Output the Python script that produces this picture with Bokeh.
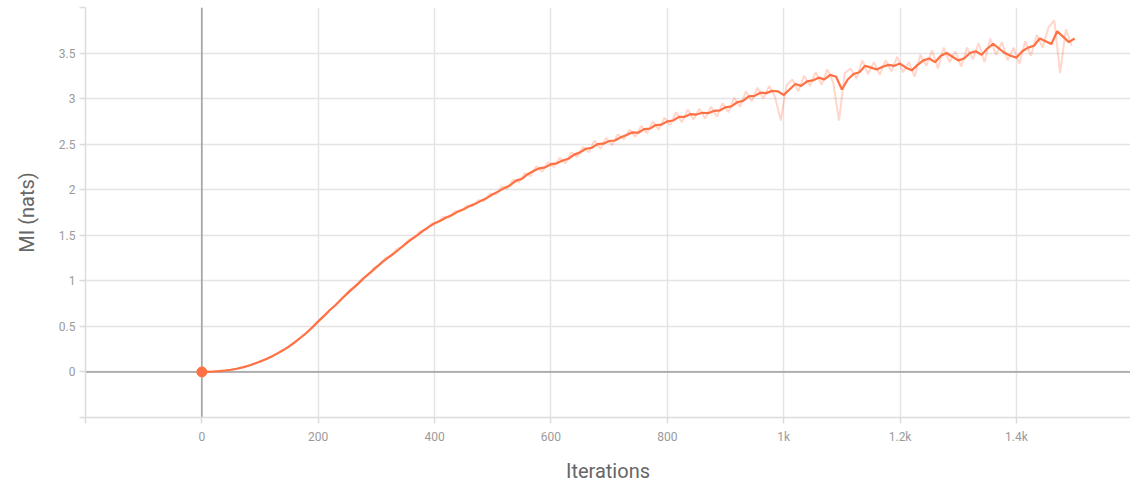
from bokeh.plotting import figure
from bokeh.models import FixedTicker, Span, Range1d
from bokeh.embed import file_html
from bokeh.resources import INLINE

# ---- data ----
smooth_x = list(range(0, 1510, 10))
smooth_mi = [
    0.000, 0.002, 0.005, 0.010, 0.016, 0.024, 0.035, 0.050, 0.068, 0.090,
    0.114, 0.140, 0.170, 0.204, 0.240, 0.280, 0.328, 0.378, 0.430, 0.490,
    0.555, 0.615, 0.680, 0.735, 0.800, 0.862, 0.920, 0.978, 1.040, 1.092,
    1.150, 1.205, 1.255, 1.300, 1.352, 1.405, 1.455, 1.500, 1.548, 1.592,
    1.632, 1.660, 1.695, 1.722, 1.760, 1.785, 1.820, 1.845, 1.880, 1.910,
    1.950, 1.982, 2.020, 2.050, 2.100, 2.120, 2.170, 2.205, 2.235, 2.245,
    2.280, 2.290, 2.320, 2.340, 2.385, 2.410, 2.450, 2.460, 2.500, 2.505,
    2.535, 2.540, 2.575, 2.600, 2.630, 2.625, 2.665, 2.670, 2.710, 2.715,
    2.750, 2.760, 2.800, 2.800, 2.830, 2.825, 2.845, 2.840, 2.865, 2.870,
    2.905, 2.915, 2.960, 2.975, 3.025, 3.030, 3.065, 3.060, 3.085, 3.080,
    3.040, 3.100, 3.160, 3.140, 3.190, 3.200, 3.230, 3.210, 3.260, 3.240,
    3.100, 3.210, 3.270, 3.290, 3.360, 3.340, 3.320, 3.350, 3.370, 3.360,
    3.385, 3.340, 3.310, 3.370, 3.420, 3.440, 3.400, 3.470, 3.500, 3.460,
    3.420, 3.440, 3.500, 3.520, 3.480, 3.550, 3.600, 3.550, 3.500, 3.470,
    3.450, 3.520, 3.560, 3.580, 3.660, 3.630, 3.600, 3.740, 3.680, 3.620,
    3.660,
]

raw_x = list(range(5, 1500, 10))
raw_mi = [
    0.001, 0.003, 0.007, 0.013, 0.020, 0.029, 0.042, 0.059, 0.079, 0.102,
    0.127, 0.155, 0.187, 0.222, 0.260, 0.304, 0.353, 0.404, 0.460, 0.522,
    0.585, 0.650, 0.708, 0.770, 0.830, 0.905, 0.940, 1.025, 1.060, 1.140,
    1.170, 1.250, 1.270, 1.350, 1.375, 1.450, 1.475, 1.545, 1.560, 1.630,
    1.640, 1.700, 1.695, 1.765, 1.760, 1.825, 1.820, 1.885, 1.880, 1.955,
    1.950, 2.035, 2.010, 2.110, 2.080, 2.180, 2.150, 2.260, 2.200, 2.300,
    2.250, 2.350, 2.290, 2.410, 2.360, 2.470, 2.410, 2.540, 2.450, 2.570,
    2.490, 2.610, 2.550, 2.660, 2.580, 2.700, 2.620, 2.750, 2.660, 2.790,
    2.710, 2.850, 2.740, 2.880, 2.770, 2.890, 2.780, 2.910, 2.800, 2.950,
    2.850, 3.010, 2.910, 3.080, 2.970, 3.120, 3.000, 3.140, 3.020, 2.760,
    3.150, 3.210, 3.080, 3.250, 3.140, 3.290, 3.150, 3.320, 3.180, 2.760,
    3.280, 3.330, 3.220, 3.420, 3.270, 3.400, 3.260, 3.420, 3.300, 3.460,
    3.290, 3.400, 3.240, 3.480, 3.360, 3.530, 3.330, 3.560, 3.400, 3.520,
    3.350, 3.560, 3.430, 3.610, 3.400, 3.660, 3.480, 3.620, 3.420, 3.560,
    3.380, 3.630, 3.470, 3.700, 3.560, 3.780, 3.860, 3.280, 3.760, 3.580,
]

x_ticks = [-200, 0, 200, 400, 600, 800, 1000, 1200, 1400]
x_labels = ["", "0", "200", "400", "600", "800", "1k", "1.2k", "1.4k"]
y_ticks = [-0.5, 0.0, 0.5, 1.0, 1.5, 2.0, 2.5, 3.0, 3.5, 4.0]
y_labels = ["", "0", "0.5", "1", "1.5", "2", "2.5", "3", "3.5", ""]

# ---- figure ----
LINE = "#ff7043"
GRID = "#e4e4e4"
TICK_TXT = "#9a9a9a"
TITLE_TXT = "#666666"
FONT = "Roboto"

p = figure(width=1130, height=486, output_backend="svg", toolbar_location=None,
           x_range=Range1d(-200, 1596), y_range=Range1d(-0.5, 4.0),
           min_border_left=85, min_border_right=0, min_border_top=7,
           min_border_bottom=69)
p.outline_line_color = None
p.background_fill_color = "white"
p.border_fill_color = "white"

p.xaxis.ticker = FixedTicker(ticks=x_ticks)
p.yaxis.ticker = FixedTicker(ticks=y_ticks)
p.xaxis.major_label_overrides = dict(zip(x_ticks, x_labels))
p.yaxis.major_label_overrides = dict(zip(y_ticks, y_labels))
p.xgrid.ticker = FixedTicker(ticks=x_ticks)
p.ygrid.ticker = FixedTicker(ticks=y_ticks)

for ax in (p.xaxis, p.yaxis):
    ax.axis_line_color = "#dcdcdc"
    ax.axis_line_width = 1.5
    ax.major_tick_line_color = "#dcdcdc"
    ax.major_tick_line_width = 1.5
    ax.major_tick_out = 6
    ax.major_tick_in = 0
    ax.minor_tick_line_color = None
    ax.major_label_text_font = FONT
    ax.major_label_text_font_size = "12px"
    ax.major_label_text_color = TICK_TXT
    ax.axis_label_text_font = FONT
    ax.axis_label_text_font_size = "20px"
    ax.axis_label_text_font_style = "normal"
    ax.axis_label_text_color = TITLE_TXT

p.xaxis.axis_label = "Iterations"
p.yaxis.axis_label = "MI (nats)"
p.xaxis.major_label_standoff = 6
p.xaxis.axis_label_standoff = 12
p.yaxis.major_label_standoff = 4
p.yaxis.axis_label_standoff = 17

for g in (p.xgrid, p.ygrid):
    g.grid_line_color = GRID
    g.grid_line_width = 1.5

p.add_layout(Span(location=0, dimension="height", line_color="#9e9e9e",
                  line_width=1.5, level="underlay"))
p.add_layout(Span(location=0, dimension="width", line_color="#9e9e9e",
                  line_width=1.5, level="underlay"))

p.line(raw_x, raw_mi, line_color=LINE, line_alpha=0.28, line_width=2)
p.line(smooth_x, smooth_mi, line_color=LINE, line_width=2.2)
p.scatter([smooth_x[0]], [smooth_mi[0]], size=10, fill_color=LINE, line_color=LINE)

open("out.html", "w").write(file_html(p, INLINE))
